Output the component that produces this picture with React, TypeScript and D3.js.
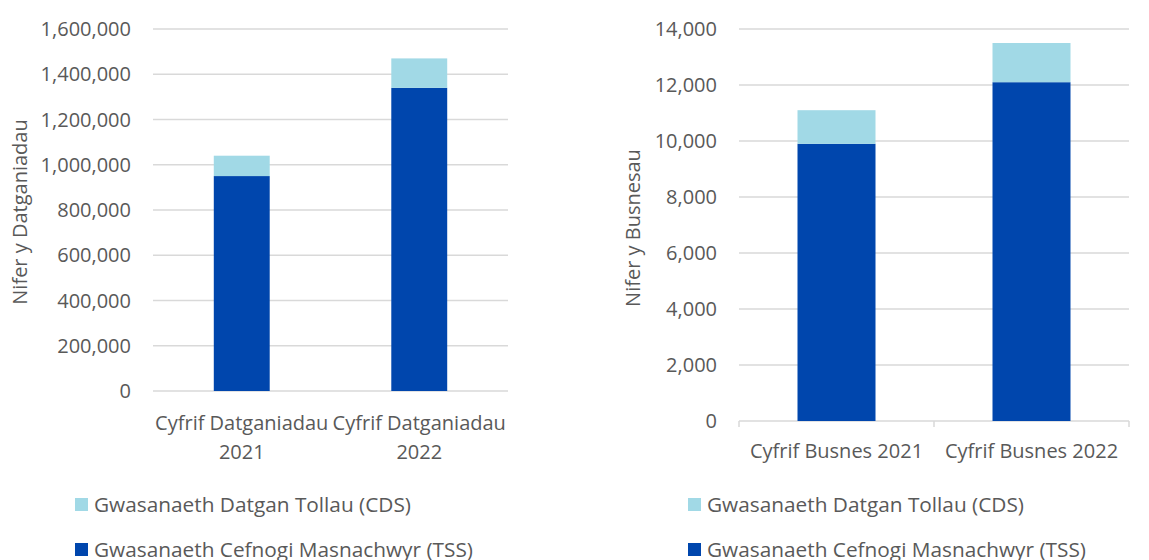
import React from "react";
import * as d3 from "d3";

// ---- Data ----
const seriesNames = ["Gwasanaeth Datgan Tollau (CDS)", "Gwasanaeth Cefnogi Masnachwyr (TSS)"];
const seriesColors = ["#A1D9E6", "#0046AD"];

const leftCategories = ["Cyfrif Datganiadau 2021", "Cyfrif Datganiadau 2022"];
const leftCategoryLines = [["Cyfrif Datganiadau", "2021"], ["Cyfrif Datganiadau", "2022"]];
const leftTSS = [950000, 1340000];
const leftCDS = [90000, 130000];
const leftTicks = [0, 200000, 400000, 600000, 800000, 1000000, 1200000, 1400000, 1600000];
const leftTitle = "Nifer y Datganiadau";

const rightCategories = ["Cyfrif Busnes 2021", "Cyfrif Busnes 2022"];
const rightCategoryLines = [["Cyfrif Busnes 2021"], ["Cyfrif Busnes 2022"]];
const rightTSS = [9900, 12100];
const rightCDS = [1200, 1400];
const rightTicks = [0, 2000, 4000, 6000, 8000, 10000, 12000, 14000];
const rightTitle = "Nifer y Busnesau";

const FONT = "'Open Sans', sans-serif";
const TEXT = "#595959";
const GRID = "#D9D9D9";
const fmt = d3.format(",");

type ChartProps = {
  categories: string[];
  catLines: string[][];
  tss: number[];
  cds: number[];
  ticks: number[];
  title: string;
  x0: number;
  x1: number;
  yTop: number;
  yBottom: number;
  padding: number;
  labelRight: number;
  titleX: number;
  titleY: number;
  catY: number;
  showTicks: boolean;
  legendX: number;
};

function Chart(p: ChartProps) {
  const x = d3.scaleBand<string>().domain(p.categories).range([p.x0, p.x1]).paddingInner(p.padding).paddingOuter(p.padding / 2);
  const y = d3.scaleLinear().domain([0, p.ticks[p.ticks.length - 1]]).range([p.yBottom, p.yTop]);
  const rows = p.categories.map((c, i) => ({ cat: c, TSS: p.tss[i], CDS: p.cds[i] }));
  const stacked = d3.stack<any>().keys(["TSS", "CDS"])(rows);
  const colorFor: Record<string, string> = { TSS: seriesColors[1], CDS: seriesColors[0] };
  const step = x.step();
  return (
    <g>
      {p.ticks.map((t) => (
        <g key={t}>
          <line x1={p.x0} x2={p.x1} y1={y(t)} y2={y(t)} stroke={GRID} strokeWidth={1.5} />
          <text x={p.labelRight} y={y(t)} dy="0.35em" textAnchor="end" fontSize={20} fill={TEXT} fontFamily={FONT}>
            {fmt(t)}
          </text>
        </g>
      ))}
      {p.showTicks &&
        d3.range(p.categories.length + 1).map((i) => (
          <line key={"tk" + i} x1={p.x0 + i * step} x2={p.x0 + i * step} y1={p.yBottom} y2={p.yBottom + 6} stroke={GRID} strokeWidth={1.5} />
        ))}
      {stacked.map((s) =>
        s.map((d, i) => (
          <rect
            key={s.key + i}
            x={x(p.categories[i])}
            width={x.bandwidth()}
            y={y(d[1])}
            height={y(d[0]) - y(d[1])}
            fill={colorFor[s.key]}
          />
        ))
      )}
      {p.catLines.map((lines, i) => (
        <text key={"c" + i} x={(x(p.categories[i]) as number) + x.bandwidth() / 2} y={p.catY} textAnchor="middle" fontSize={20} fill={TEXT} fontFamily={FONT}>
          {lines.map((l, j) => (
            <tspan key={j} x={(x(p.categories[i]) as number) + x.bandwidth() / 2} dy={j === 0 ? 0 : 29}>
              {l}
            </tspan>
          ))}
        </text>
      ))}
      <text transform={`translate(${p.titleX},${p.titleY}) rotate(-90)`} textAnchor="middle" fontSize={20} fill={TEXT} fontFamily={FONT}>
        {p.title}
      </text>
      {seriesNames.map((n, i) => (
        <g key={n}>
          <rect x={p.legendX} y={498 + i * 45} width={13} height={13} fill={seriesColors[i]} />
          <text x={p.legendX + 19} y={512 + i * 45} fontSize={20.8} fill={TEXT} fontFamily={FONT}>
            {n}
          </text>
        </g>
      ))}
    </g>
  );
}

export default function App() {
  return (
    <svg width={1149} height={560} style={{ position: "absolute", left: 0, top: 0, background: "#fff" }}>
      <rect width={1149} height={560} fill="#fff" />
      <Chart
        categories={leftCategories}
        catLines={leftCategoryLines}
        tss={leftTSS}
        cds={leftCDS}
        ticks={leftTicks}
        title={leftTitle}
        x0={153}
        x1={508}
        yTop={29}
        yBottom={391}
        padding={0.685}
        labelRight={131}
        titleX={27}
        titleY={212}
        catY={430}
        showTicks={false}
        legendX={75}
      />
      <Chart
        categories={rightCategories}
        catLines={rightCategoryLines}
        tss={rightTSS}
        cds={rightTSS.map((_, i) => rightCDS[i])}
        ticks={rightTicks}
        title={rightTitle}
        x0={739}
        x1={1129}
        yTop={29}
        yBottom={421}
        padding={0.6}
        labelRight={717}
        titleX={640}
        titleY={228}
        catY={458}
        showTicks={true}
        legendX={688}
      />
    </svg>
  );
}
